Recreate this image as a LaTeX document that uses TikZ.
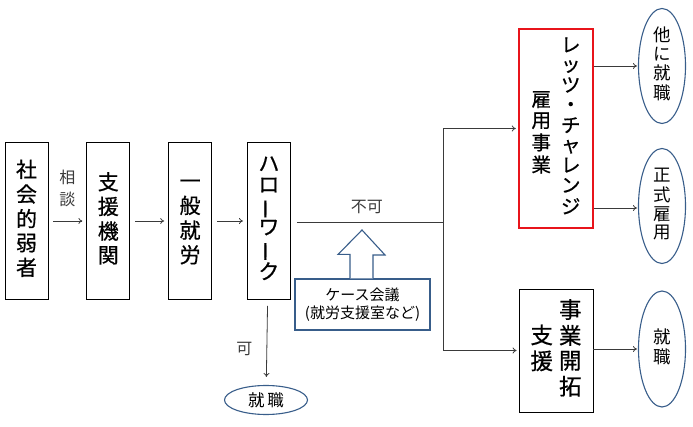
\documentclass[tikz,border=0pt]{standalone}
\usepackage{fontspec}
\setmainfont{Noto Sans CJK JP}
\newfontfamily\heavy{Noto Sans CJK JP}[FakeBold=0.6]
\usepackage{tikz}
\usetikzlibrary{shapes.geometric, arrows.meta, positioning, calc}
\definecolor{lineGray}{HTML}{3A3A3A}
\definecolor{ovalBlue}{HTML}{385D8A}
\definecolor{boxRed}{HTML}{E8141B}
\newcommand{\vcol}[1]{\begin{tabular}[c]{@{}c@{}}#1\end{tabular}}
\newcommand{\vbar}{\rotatebox[origin=c]{90}{ー}}
\tikzset{
  % box styles
  tallbox/.style={rectangle, draw=black, line width=0.8pt, minimum width=43pt, minimum height=157pt, inner sep=0pt, font=\heavy\fontsize{21}{23.5}\selectfont},
  redbox/.style={rectangle, draw=boxRed, line width=2.4pt, minimum width=74pt, minimum height=199pt, inner sep=0pt, font=\heavy\fontsize{19.5}{19.5}\selectfont},
  plainbox/.style={rectangle, draw=black, line width=0.8pt, minimum width=74pt, minimum height=123pt, inner sep=0pt, font=\heavy\fontsize{22.5}{23.5}\selectfont},
  oval/.style={ellipse, draw=ovalBlue, line width=1.1pt, minimum width=47pt, minimum height=115pt, inner sep=0pt, font=\fontsize{17.5}{17.5}\selectfont},
  confbox/.style={rectangle, draw=ovalBlue, line width=1.1pt, fill=white, minimum width=135pt, minimum height=51pt, inner sep=0pt, align=center, font=\fontsize{15}{17.5}\selectfont},
  lbl/.style={font=\fontsize{16}{22}\selectfont, inner sep=0pt, align=center},
  line/.style={lineGray, line width=0.8pt},
  arrow/.style={line, -{To[length=4pt, width=6pt]}},
}
\begin{document}
\begin{tikzpicture}[x=1pt, y=1pt]
  \useasboundingbox (0,0) rectangle (693,-427);

  % main flow
  \node[tallbox] (weak) at (26.5,-221) {\vcol{社\\会\\的\\弱\\者}};
  \node[tallbox, right=38pt of weak] (agency) {\vcol{支\\援\\機\\関}};
  \node[tallbox, right=38pt of agency] (general) {\vcol{一\\般\\就\\労}};
  \node[tallbox, right=35pt of general, font=\heavy\fontsize{21}{21}\selectfont] (hw) {\vcol{ハ\\ロ\\\vbar\\ワ\\\vbar\\ク}};

  \draw[arrow, shorten <=5pt, shorten >=4pt] (weak) -- node[midway, above=14pt, lbl] (consult) {相\\談} (agency);
  \draw[arrow, shorten <=5pt, shorten >=4pt] (agency) -- (general);
  \draw[arrow, shorten <=5pt, shorten >=4pt] (general) -- (hw);

  % hello work results
  \node[oval, minimum width=83pt, minimum height=29pt, font=\fontsize{16.5}{18}\selectfont] (job) at (266,-400) {就\,職};
  \draw[arrow, shorten <=6pt, shorten >=8pt] (hw) -- node[pos=0.58, left=14pt, lbl] (ok) {可} (job);

  \coordinate (split) at (443,-222);
  \node[redbox] (lets) at (556,-128.5) {\raisebox{-6pt}{\vcol{雇\\用\\事\\業}}\hspace{10pt}\vcol{レ\\ッ\\ツ\\・\\チ\\ャ\\レ\\ン\\ジ}};
  \node[plainbox] (pioneer) at (556,-350.5) {\vcol{支\\援}\hspace{6pt}\vcol{事\\業\\開\\拓}};

  \draw[line, shorten <=6pt] (hw.east |- split) -- node[midway, above=8pt, lbl] (ng) {不可} (split);
  \draw[arrow, shorten >=2pt] (split) |- (lets.west);
  \draw[arrow, shorten >=2pt] (split) |- (pioneer.west);

  % case conference
  \node[confbox] (conf) at (362.5,-304.5) {ケース会議\\(就労支援室など)};
  \draw[ovalBlue, line width=1.1pt, fill=white, line join=miter]
    ($(conf.north)+(-12.5,0)$) -- ++(0,24) -- ++(-12,0) -- (362,-230)
    -- (385,-255) -- ++(-12,0) -- ($(conf.north)+(10.5,0)$);

  % outcomes
  \node[oval] (other) at (662,-66) {\vcol{他\\に\\就\\職}};
  \node[oval] (formal) at (662,-206) {\vcol{正\\式\\雇\\用}};
  \node[oval, minimum height=116pt] (job2) at (662,-349) {\vcol{就\\職}};

  \draw[arrow, shorten >=1pt] (lets.east |- other.west) -- (other.west);
  \draw[arrow, shorten >=1pt] (lets.east |- 0,-208) -- (formal.west |- 0,-208);
  \draw[arrow, shorten >=1pt] (pioneer.east |- job2.west) -- (job2.west);
\end{tikzpicture}
\end{document}
